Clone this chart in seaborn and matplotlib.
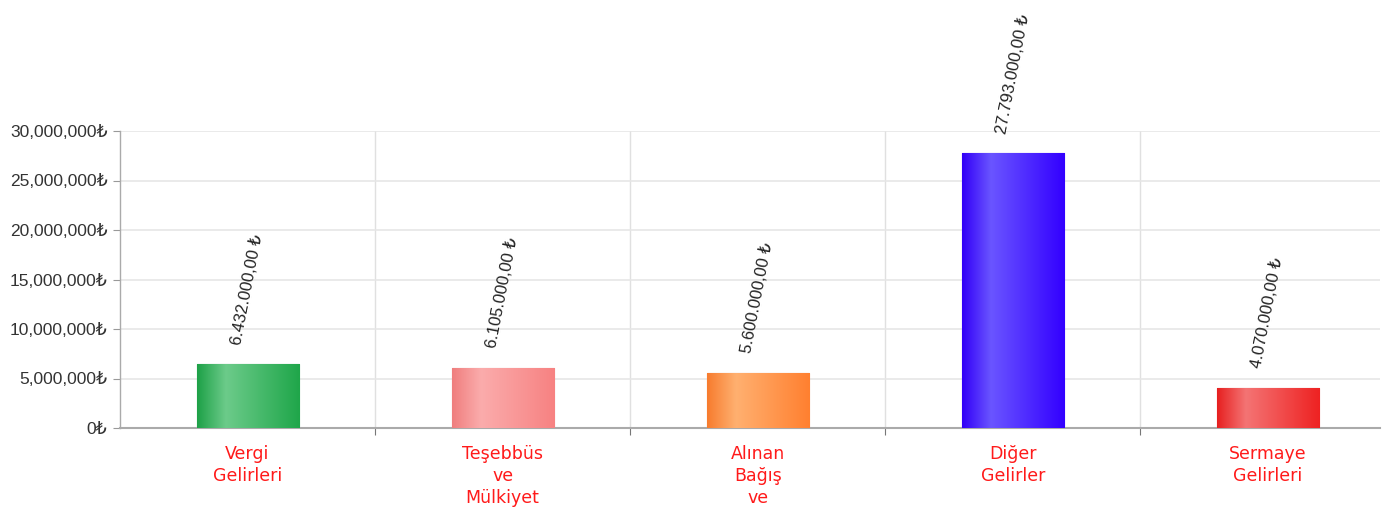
import numpy as np
import pandas as pd
import matplotlib
matplotlib.use("Agg")
import matplotlib.pyplot as plt
from matplotlib.colors import to_rgb
from matplotlib.ticker import FuncFormatter, FixedLocator
import seaborn as sns

# ---- data ----
categories = ["Vergi Gelirleri", "Teşebbüs ve Mülkiyet", "Alınan Bağış ve",
              "Diğer Gelirler", "Sermaye Gelirleri"]
tick_labels = ["Vergi\nGelirleri", "Teşebbüs\nve\nMülkiyet", "Alınan\nBağış\nve",
               "Diğer\nGelirler", "Sermaye\nGelirleri"]
values = [6432000, 6105000, 5600000, 27793000, 4070000]
base_colors = ["#1FA64A", "#F78282", "#FF8030", "#3300FF", "#EE2222"]
light_colors = ["#6CCB8A", "#FBACAC", "#FFB070", "#6A55FF", "#F47474"]
y_ticks = [0, 5000000, 10000000, 15000000, 20000000, 25000000, 30000000]

sns.set_theme(style="white")
plt.rcParams["font.family"] = ["Liberation Sans", "DejaVu Sans"]

df = pd.DataFrame({"cat": categories, "val": values})

fig = plt.figure(figsize=(13.94, 5.16), dpi=100)
ax = fig.add_axes([120 / 1394, (516 - 428) / 516, 1260 / 1394, 297 / 516])

sns.barplot(data=df, x="cat", y="val", hue="cat", palette=base_colors,
            width=0.4, legend=False, ax=ax, zorder=2)

# gradient overlay for each bar
for patch, bc, lc in zip(ax.patches, base_colors, light_colors):
    b = np.array(to_rgb(bc))
    l = np.array(to_rgb(lc))
    n = 100
    t = np.linspace(0, 1, n)
    grad = np.zeros((1, n, 3))
    for i, tt in enumerate(t):
        if tt < 0.28:
            f = tt / 0.28
            c = (b * 0.97) * (1 - f) + l * f
        else:
            f = (tt - 0.28) / 0.72
            c = l * (1 - f) + b * f
        grad[0, i] = np.clip(c, 0, 1)
    x0, y0 = patch.get_x(), patch.get_y()
    w, h = patch.get_width(), patch.get_height()
    im = ax.imshow(grad, extent=(x0, x0 + w, y0, y0 + h), aspect="auto",
                   zorder=3, interpolation="bilinear")
    im.set_clip_path(patch)
    patch.set_edgecolor(tuple(b * 0.85))
    patch.set_linewidth(0.8)

# value labels
def tr_fmt(v):
    s = f"{v:,.2f}"
    return s.replace(",", "X").replace(".", ",").replace("X", ".") + " ₺"

for i, v in enumerate(values):
    ax.annotate(tr_fmt(v), xy=(i, v), xytext=(0, 13), textcoords="offset points",
                ha="center", va="bottom", rotation=79, fontsize=12,
                color="#222222", annotation_clip=False, zorder=5)

ax.set_xlim(-0.5, 4.44)
ax.set_ylim(0, 30000000)

# y axis
ax.yaxis.set_major_locator(FixedLocator(y_ticks))
ax.yaxis.set_major_formatter(FuncFormatter(lambda v, p: f"{v:,.0f}₺"))
ax.tick_params(axis="y", which="major", left=True, length=5, width=0.8,
               color="#999999", labelsize=12.5, labelcolor="#333333", pad=4)
ax.grid(axis="y", color="#E6E6E6", linewidth=1.2, zorder=0)

# x axis
ax.set_xticks(range(len(categories)))
ax.set_xticklabels(tick_labels, color="#FF1A1A", fontsize=12.5,
                   family=["DejaVu Sans"], linespacing=1.3)
ax.tick_params(axis="x", which="major", bottom=False, pad=6)
ax.set_xticks([0.5, 1.5, 2.5, 3.5], minor=True)
ax.tick_params(axis="x", which="minor", bottom=True, length=5, width=0.8,
               color="#777777")
for xb in [0.5, 1.5, 2.5, 3.5]:
    ax.axvline(xb, color="#E0E0E0", linewidth=1.0, zorder=0)

ax.set_xlabel("")
ax.set_ylabel("")
for s in ["top", "right"]:
    ax.spines[s].set_visible(False)
ax.spines["left"].set_color("#AAAAAA")
ax.spines["bottom"].set_color("#AAAAAA")
ax.spines["left"].set_linewidth(1.0)
ax.spines["bottom"].set_linewidth(1.5)

fig.savefig("out.png", dpi=100)
